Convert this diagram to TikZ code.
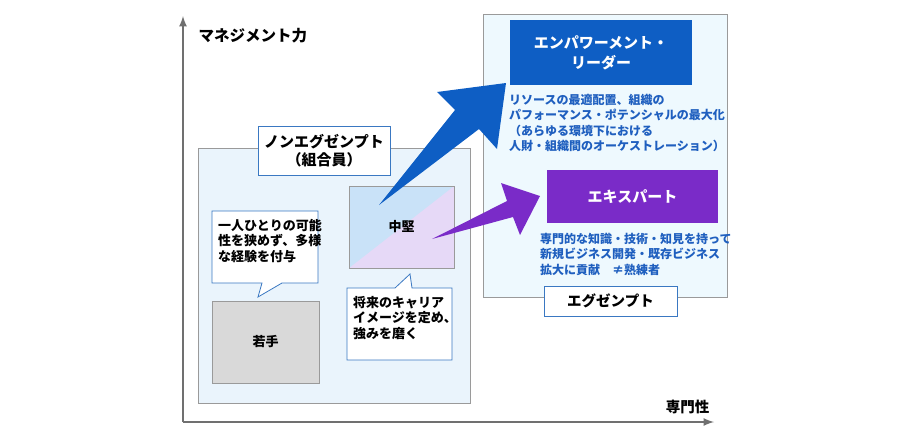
\documentclass[tikz,border=0pt]{standalone}
\usepackage{fontspec}
\setmainfont{Noto Sans CJK JP}
\usetikzlibrary{calc}
\definecolor{axisgray}{HTML}{707070}
\definecolor{boxgray}{HTML}{9A9A9A}
\definecolor{paleblue}{HTML}{EAF4FC}
\definecolor{paleaqua}{HTML}{EEF9FE}
\definecolor{lineblue}{HTML}{3A78C2}
\definecolor{leadblue}{HTML}{0E5EC4}
\definecolor{txtblue}{HTML}{1F5FBF}
\definecolor{exppurple}{HTML}{7A2BC8}
\definecolor{midblue}{HTML}{C9E2F8}
\definecolor{midlav}{HTML}{E6D9F7}
\begin{document}
\begin{tikzpicture}
    [x=1pt, y=-1pt,
    every node/.style={font=\bfseries\fontsize{13}{15.5}\selectfont, align=left},
    group/.style={draw=boxgray, line width=0.8pt},
    tag/.style={draw=lineblue, fill=white, line width=0.8pt},
    note/.style={text=txtblue, anchor=north west, inner sep=0pt, font=\bfseries\fontsize{12}{15.3}\selectfont}
    ]
    \useasboundingbox (0,0) rectangle (901,437);
    % groups
    \draw[group, fill=paleblue] (198,148) rectangle (470,403);
    \draw[group, fill=paleaqua] (483,14) rectangle (727,297);
    % axes
    \draw[axisgray, line width=2.5pt, -latex] (183,422) coordinate (origin) -- (183,16);
    \draw[axisgray, line width=2.5pt, -latex] (origin) -- (714,422);
    \node (mgmt) [anchor=west, font=\bfseries\fontsize{15.5}{18}\selectfont] at (195,36) {マネジメント力};
    \node (spec) [anchor=east, font=\bfseries\fontsize{14.5}{17}\selectfont] at (713,407) {専門性};
    % boxes
    \node (nonex) [tag, align=center, minimum width=132pt, minimum height=49pt, inner sep=2pt, font=\bfseries\fontsize{15}{18}\selectfont] at (324,150.5) {ノンエグゼンプト\\（組合員）};
    \fill[midlav] (349,186) rectangle (454,268);
    \fill[midblue] (349,186) -- (454,186) -- (349,268) -- cycle;
    \draw[group] (349,186) rectangle (454,268);
    \node (mid) at (401.5,227) {中堅};
    \draw[group, fill=black!15] (212,301) rectangle (319,383);
    \node (young) at (265.5,342) {若手};
    % callouts
    \draw[tag] (212,211) -- (318,211) -- (318,283) -- (282,283) -- (258,297) -- (262,283) -- (212,283) -- cycle;
    \node (tip1) [anchor=north west, inner sep=0pt] at (218,219) {一人ひとりの可能\\性を狭めず、多様\\な経験を付与};
    \draw[tag] (347,288) -- (395,288) -- (410,274) -- (412,288) -- (452,288) -- (452,360) -- (347,360) -- cycle;
    \node (tip2) [anchor=north west, inner sep=0pt] at (353,296) {将来のキャリア\\イメージを定め、\\強みを磨く};
    % right side
    \node (lead) [fill=leadblue, text=white, align=center, minimum width=182pt, minimum height=65pt, font=\bfseries\fontsize{15}{20}\selectfont] at (601,52.5) {エンパワーメント・\\リーダー};
    \node (leadnote) [note] at (509,94) {リソースの最適配置、組織の\\パフォーマンス・ポテンシャルの最大化\\（あらゆる環境下における\\人財・組織間のオーケストレーション）};
    \node (expert) [fill=exppurple, text=white, minimum width=171pt, minimum height=53pt, align=center, font=\bfseries\fontsize{15}{18}\selectfont] at (632.5,196.5) {エキスパート};
    \node (expnote) [note] at (540,233) {専門的な知識・技術・知見を持って\\新規ビジネス開発・既存ビジネス\\拡大に貢献\quad ≠熟練者};
    \node (exempt) [tag, minimum width=133pt, minimum height=30pt, align=center, font=\bfseries\fontsize{14.5}{17}\selectfont] at (610.5,301) {エグゼンプト};
    % arrows
    \fill[leadblue] (379,205) -- (455,110) -- (437,92) -- (506,83) -- (497,149) -- (479,129) -- cycle;
    \fill[exppurple] (432,239) -- (507,201) -- (501,183) -- (540,196) -- (520,235) -- (513,217) -- cycle;
\end{tikzpicture}
\end{document}
